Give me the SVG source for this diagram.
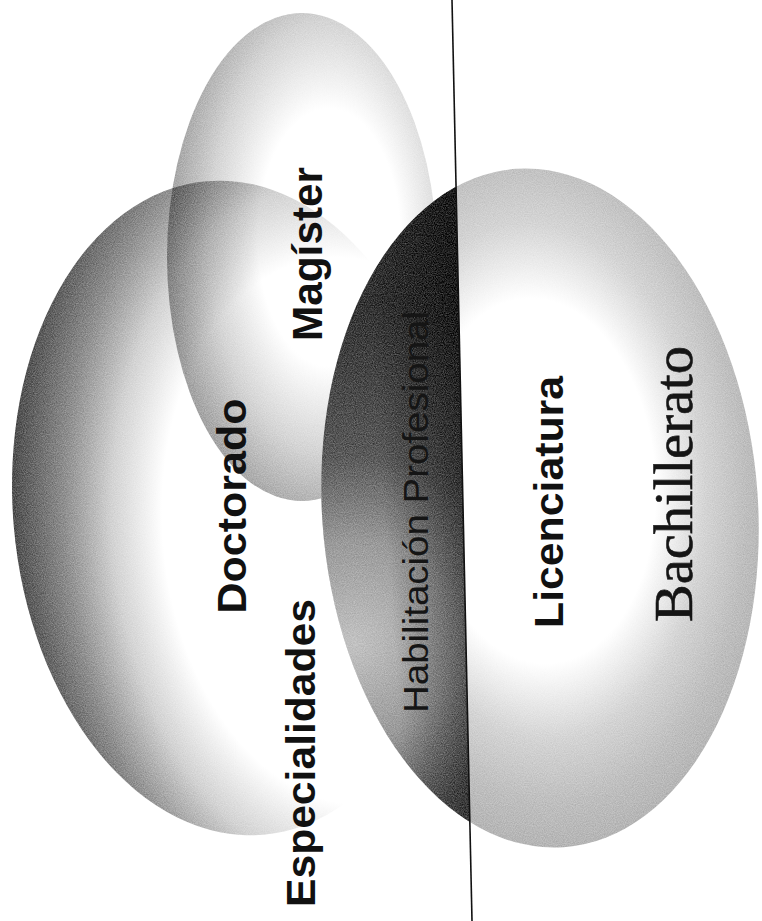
<svg xmlns="http://www.w3.org/2000/svg" width="762" height="921" viewBox="0 0 762 921">
  <style>
    .lbl { font-family: "Liberation Sans", Arial, sans-serif; font-weight: bold; fill: #111; }
    .lblr { font-family: "Liberation Sans", Arial, sans-serif; font-weight: normal; fill: #151515; }
    .lbls { font-family: "Liberation Serif", "Times New Roman", serif; fill: #151515; stroke: #151515; stroke-width: 0.6; }
    .mul { mix-blend-mode: multiply; }
  </style>
  <defs>
    <radialGradient id="gLeft" cx="0.75" cy="0.55" r="0.76" fx="0.75" fy="0.55">
      <stop offset="0" stop-color="#ffffff"/>
      <stop offset="0.55" stop-color="#ffffff"/>
      <stop offset="0.7" stop-color="#d2d2d2"/>
      <stop offset="0.84" stop-color="#8e8e8e"/>
      <stop offset="1" stop-color="#4c4c4c"/>
    </radialGradient>
    <radialGradient id="gMag" cx="0.6" cy="0.46" r="0.6">
      <stop offset="0" stop-color="#ffffff"/>
      <stop offset="0.44" stop-color="#ffffff"/>
      <stop offset="0.74" stop-color="#d4d4d4"/>
      <stop offset="1" stop-color="#a2a2a2"/>
    </radialGradient>
    <radialGradient id="gRight" cx="0.5" cy="0.46" r="0.56">
      <stop offset="0" stop-color="#ffffff"/>
      <stop offset="0.48" stop-color="#ffffff"/>
      <stop offset="0.68" stop-color="#d4d4d4"/>
      <stop offset="0.85" stop-color="#bebebe"/>
      <stop offset="1" stop-color="#b2b2b2"/>
    </radialGradient>
    <radialGradient id="gCres" gradientUnits="userSpaceOnUse" cx="350" cy="620" r="330" fx="345" fy="630">
      <stop offset="0" stop-color="#c2c2c2"/>
      <stop offset="0.3" stop-color="#9a9a9a"/>
      <stop offset="0.55" stop-color="#5a5a5a"/>
      <stop offset="1" stop-color="#333333"/>
    </radialGradient>
    <linearGradient id="gCresEdge" gradientUnits="userSpaceOnUse" x1="385" y1="0" x2="468" y2="0">
      <stop offset="0" stop-color="#ffffff"/>
      <stop offset="1" stop-color="#8c8c8c"/>
    </linearGradient>
    <clipPath id="leftOfLine">
      <polygon points="0,0 452,0 472,921 0,921"/>
    </clipPath>
    <filter id="grain" filterUnits="userSpaceOnUse" x="0" y="0" width="762" height="921" color-interpolation-filters="sRGB">
      <feTurbulence type="fractalNoise" baseFrequency="0.9" numOctaves="2" seed="7" result="noise"/>
      <feColorMatrix in="noise" type="matrix" values="1 0 0 0 0  1 0 0 0 0  1 0 0 0 0  0 0 0 0 1" result="gnoise"/>
      <feComposite in="SourceGraphic" in2="gnoise" operator="arithmetic" k1="0.6" k2="0.7" k3="-0.6" k4="0.3"/>
    </filter>
  </defs>

  <g id="shapes" filter="url(#grain)">
    <rect width="762" height="921" fill="#ffffff"/>

    <g id="n-especialidades">
      <ellipse cx="235" cy="508" rx="222" ry="328" transform="rotate(-5 235 508)" fill="url(#gLeft)"/>
    </g>

    <g id="n-magister">
      <ellipse class="mul" cx="302" cy="257" rx="135" ry="244" fill="url(#gMag)"/>
    </g>

    <g id="n-bachillerato">
      <ellipse class="mul" cx="540" cy="508" rx="218" ry="340" transform="rotate(-4 540 508)" fill="url(#gRight)"/>
    </g>

    <g id="n-habilitacion" clip-path="url(#leftOfLine)">
      <ellipse class="mul" cx="540" cy="508" rx="218" ry="340" transform="rotate(-4 540 508)" fill="url(#gCres)"/>
      <ellipse class="mul" cx="540" cy="508" rx="218" ry="340" transform="rotate(-4 540 508)" fill="url(#gCresEdge)"/>
    </g>
  </g>

  <g id="labels">
    <text class="lblr" font-size="35" text-anchor="middle" textLength="402" lengthAdjust="spacingAndGlyphs" transform="translate(428 512) rotate(-90)">Habilitación Profesional</text>
    <text class="lbl" font-size="42" text-anchor="middle" textLength="174" lengthAdjust="spacingAndGlyphs" transform="translate(322 254) rotate(-90)">Magíster</text>
    <text class="lbl" font-size="40" text-anchor="middle" textLength="215" lengthAdjust="spacingAndGlyphs" transform="translate(246 506) rotate(-90)">Doctorado</text>
    <text class="lbl" font-size="40" text-anchor="middle" textLength="308" lengthAdjust="spacingAndGlyphs" transform="translate(315 753) rotate(-90)">Especialidades</text>
    <text class="lbl" font-size="40" text-anchor="middle" textLength="252" lengthAdjust="spacingAndGlyphs" transform="translate(563 502) rotate(-90)">Licenciatura</text>
    <text class="lbls" font-size="54" text-anchor="middle" textLength="276" lengthAdjust="spacingAndGlyphs" transform="translate(692 484) rotate(-90)">Bachillerato</text>
  </g>

  <g id="divider">
    <line x1="452" y1="0" x2="472" y2="921" stroke="#111" stroke-width="1.6"/>
  </g>
</svg>
